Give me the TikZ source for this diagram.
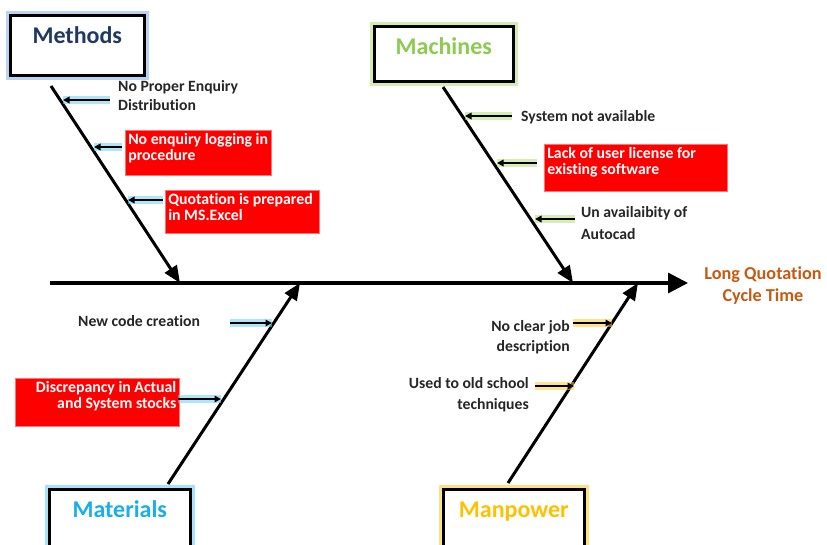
\documentclass[tikz,border=0pt]{standalone}
\usepackage{fontspec}
\setmainfont{Carlito}[Ligatures=NoCommon]
\usetikzlibrary{arrows.meta}
\definecolor{navyt}{HTML}{1F3864}
\definecolor{greent}{HTML}{8CCB4E}
\definecolor{bluet}{HTML}{1AAEEB}
\definecolor{goldt}{HTML}{FFC000}
\definecolor{effectc}{HTML}{C55A11}
\definecolor{glowblue}{HTML}{8DB8E6}
\definecolor{glowgreen}{HTML}{B9E07A}
\definecolor{glowcyan}{HTML}{6CD0F5}
\definecolor{glowgold}{HTML}{FFCC33}
\definecolor{redfill}{HTML}{FF0000}
\tikzset{
  catbox/.style={draw=black, line width=2.6pt, fill=white, anchor=north west,
    inner sep=0pt, text height=28pt, font=\bfseries\fontsize{24}{28}\selectfont,
    preaction={draw=#1, line width=9pt, opacity=0.6}},
  redbox/.style={fill=redfill, draw=red!55!white, line width=0.6pt, inner sep=3pt,
    anchor=north west, text=white, font=\bfseries\fontsize{15.8}{16.5}\selectfont},
  lbl/.style={inner sep=0pt, font=\bfseries\fontsize{15.7}{19.5}\selectfont, text=black!85},
  bone/.style={line width=3pt, -{Triangle[length=17pt,width=14pt]}},
  spine/.style={line width=3.3pt, -{Triangle[length=20pt,width=20pt]}},
  sub/.style={line width=1.8pt, -{Triangle[length=6.5pt,width=6.5pt]},
    preaction={draw=#1, line width=8pt, opacity=0.55, -}},
}
\begin{document}
\begin{tikzpicture}[x=1pt,y=-1pt]
\clip (0,0) rectangle (827,544);
\fill[white] (0,0) rectangle (827,544);

% category boxes
\node[catbox=glowblue, minimum width=134pt, text depth=32pt, text=navyt] (methods) at (9,14) {Methods};
\node[catbox=glowgreen, minimum width=139pt, text depth=27pt, text=greent] (machines) at (373,25) {Machines};
\node[catbox=glowcyan, minimum width=141pt, text depth=50pt, text=bluet] (materials) at (48,488) {Materials};
\node[catbox=glowgold, minimum width=141pt, text depth=50pt, text=goldt] (manpower) at (442,488) {Manpower};

% effect
\node[inner sep=0pt, anchor=north, align=center, text=effectc,
  font=\bfseries\fontsize{18.2}{22}\selectfont] (effect) at (763,267) {Long Quotation\\Cycle Time};

% spine and bones
\coordinate (spineL) at (50,283);
\coordinate (spineR) at (688,283);
\draw[spine] (spineL) -- (spineR);

\coordinate (boneM0) at (51,86);   \coordinate (boneM1) at (180,283);
\coordinate (boneC0) at (443,87);  \coordinate (boneC1) at (573,283);
\coordinate (boneT0) at (168,484); \coordinate (boneT1) at (300,283);
\coordinate (boneP0) at (508,483); \coordinate (boneP1) at (638,283);
\draw[bone] (boneM0) -- (boneM1);
\draw[bone] (boneC0) -- (boneC1);
\draw[bone] (boneT0) -- (boneT1);
\draw[bone] (boneP0) -- (boneP1);

% Methods causes
\node[lbl, anchor=north west, align=left] (m1) at (118,80) {No Proper Enquiry\\Distribution};
\node[redbox] (m2) at (125,130) {\parbox[c][39pt][t]{140pt}{No enquiry logging in\\procedure}};
\node[redbox] (m3) at (165,190) {\parbox[c][37pt][t]{148pt}{Quotation is prepared\\in MS.Excel}};
\coordinate (am1t) at (110,100); \coordinate (am1h) at (63,100);
\coordinate (am2t) at (122,147); \coordinate (am2h) at (94,147);
\coordinate (am3t) at (163,200); \coordinate (am3h) at (128,200);
\draw[sub=glowcyan] (am1t) -- (am1h);
\draw[sub=glowcyan] (am2t) -- (am2h);
\draw[sub=glowcyan] (am3t) -- (am3h);

% Machines causes
\node[lbl, anchor=north west] (c1) at (521,110) {System not available};
\node[redbox] (c2) at (544,144) {\parbox[c][41pt][t]{177pt}{Lack of user license for\\existing software}};
\node[lbl, anchor=north west, align=left, font=\bfseries\fontsize{15.7}{22}\selectfont] (c3) at (581,206) {Un availaibity of\\Autocad};
\coordinate (ac1t) at (512,116); \coordinate (ac1h) at (465,116);
\coordinate (ac2t) at (537,163); \coordinate (ac2h) at (497,163);
\coordinate (ac3t) at (575,219); \coordinate (ac3h) at (535,219);
\draw[sub=glowgreen] (ac1t) -- (ac1h);
\draw[sub=glowgreen] (ac2t) -- (ac2h);
\draw[sub=glowgreen] (ac3t) -- (ac3h);

% Materials causes
\node[lbl, anchor=north west] (t1) at (78,315) {New code creation};
\node[redbox] (t2) at (15,378) {\parbox[c][42pt][t]{158pt}{\raggedleft Discrepancy in Actual\\and System stocks}};
\coordinate (at1t) at (230,323); \coordinate (at1h) at (272,323);
\coordinate (at2t) at (178,399); \coordinate (at2h) at (221,399);
\draw[sub=glowcyan] (at1t) -- (at1h);
\draw[sub=glowcyan] (at2t) -- (at2h);

% Manpower causes
\node[lbl, anchor=north east, align=right, font=\bfseries\fontsize{15.7}{20}\selectfont] (p1) at (570,320) {No clear job\\description};
\node[lbl, anchor=north east, align=right, font=\bfseries\fontsize{15.7}{21}\selectfont] (p2) at (529,377) {Used to old school\\techniques};
\coordinate (ap1t) at (573,323); \coordinate (ap1h) at (612,323);
\coordinate (ap2t) at (535,386); \coordinate (ap2h) at (574,386);
\draw[sub=glowgold] (ap1t) -- (ap1h);
\draw[sub=glowgold] (ap2t) -- (ap2h);
\end{tikzpicture}
\end{document}
